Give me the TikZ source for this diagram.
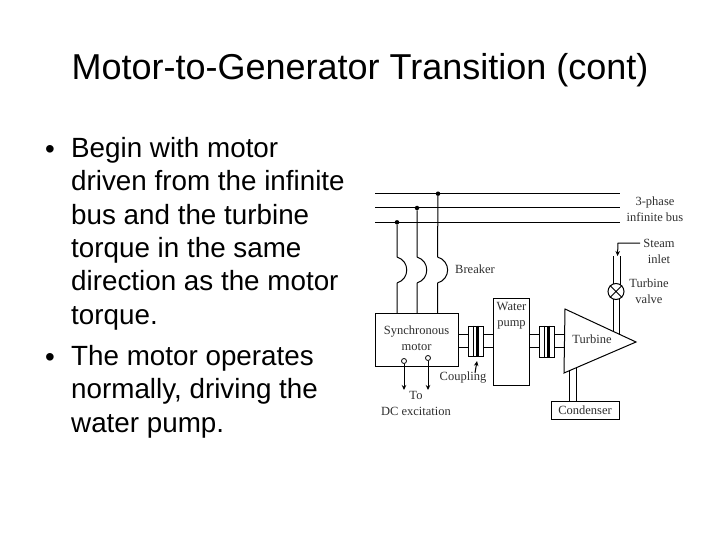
\documentclass[tikz,border=0pt]{standalone}
\usepackage{fontspec}
\setmainfont{Liberation Sans}
\newfontfamily\diagfont{Liberation Serif}
\usetikzlibrary{arrows.meta}
\definecolor{scan}{gray}{0.18}
\tikzset{
 titletext/.style={anchor=base,inner sep=0pt,font=\fontsize{36}{40}\selectfont},
 bodytext/.style={anchor=north west,inner sep=0pt,align=left,font=\fontsize{27.8}{33.4}\selectfont},
 bullettext/.style={anchor=base,inner sep=0pt,font=\fontsize{27.8}{33.4}\selectfont},
 lbl/.style={inner sep=0pt,text=scan,align=center,font=\diagfont\fontsize{12.5}{16}\selectfont},
 wire/.style={line width=1pt,draw=black},
 boxx/.style={draw=black,line width=1pt,fill=white,inner sep=0pt,minimum width=#1},
 dotn/.style={circle,fill=black,inner sep=0pt,minimum size=4.5pt},
 term/.style={circle,draw=black,fill=white,line width=0.8pt,inner sep=0pt,minimum size=5pt},
 arr/.style={wire,-{Stealth[length=5pt,width=4.5pt]}},
}
\begin{document}
\begin{tikzpicture}[x=1pt,y=-1pt]
\useasboundingbox (0,0) rectangle (720,540);
% text
\node[titletext] (title) at (360,80) {Motor-to-Generator Transition (cont)};
\node[bullettext] (b1) at (50,158.5) {•};
\node[bullettext] (b2) at (50,366) {•};
\node[bodytext] (t1) at (71,137) {Begin with motor\\driven from the infinite\\bus and the turbine\\torque in the same\\direction as the motor\\torque.};
\node[bodytext] (t2) at (71,345) {The motor operates\\normally, driving the\\water pump.};
% buses
\coordinate (b1l) at (375,193.7); \coordinate (b1r) at (620,193.7);
\coordinate (b2l) at (375,208); \coordinate (b2r) at (620,208);
\coordinate (b3l) at (375,222.3); \coordinate (b3r) at (620,222.3);
\draw[wire] (b1l)--(b1r); \draw[wire] (b2l)--(b2r); \draw[wire] (b3l)--(b3r);
\node[dotn] (da) at (397,222.3) {};
\node[dotn] (db) at (417,208) {};
\node[dotn] (dc) at (438,193.7) {};
% motor
\node[boxx=83pt,minimum height=53pt] (motor) at (416.5,339.5) {};
\node[lbl] (motorl) at (416.5,338) {Synchronous\\motor};
% breakers
\coordinate (ba1) at (397,257); \coordinate (ba2) at (397,283);
\coordinate (bb1) at (417,257); \coordinate (bb2) at (417,283);
\coordinate (bc1) at (437.5,257); \coordinate (bc2) at (437.5,283);
\draw[wire] (da)--(ba1) (ba1) .. controls (410,261) and (410,279) .. (ba2) (ba2)--(397,313);
\draw[wire] (db)--(bb1) (bb1) .. controls (430,261) and (430,279) .. (bb2) (bb2)--(417,313);
\draw[wire] (dc)--(bc1) (bc1) .. controls (451,261) and (451,279) .. (bc2) (bc2)--(437.5,313);
\node[lbl,anchor=west] (brk) at (455,269.5) {Breaker};
% terminals
\node[term] (t1a) at (404,361) {};
\node[term] (t2a) at (428,358) {};
\coordinate (e1) at (404,390); \coordinate (e2) at (428,390);
\draw[arr] (t1a)--(e1); \draw[arr] (t2a)--(e2);
\node[lbl] (dcl) at (416,403.5) {To\\DC excitation};
% pump
\node[boxx=36pt,minimum height=87pt] (pump) at (511,341.5) {};
\node[lbl] (pumpl) at (511.5,316) {Water\\pump};
% couplings
\node[boxx=15pt,minimum height=30pt] (c1) at (475.5,341) {};
\node[boxx=15pt,minimum height=31pt] (c2) at (546.5,341.5) {};
\draw[wire] (c1.north) ++(-2.5,0) -- ++(0,30) ++(5,-30) -- ++(0,30);
\draw[line width=2pt] (c1.north)++(1,0) -- ++(0,30);
\draw[wire] (c2.north) ++(-2.5,0) -- ++(0,31);
\draw[line width=3pt] (c2.north)++(2,0) -- ++(0,31);
% turbine
\coordinate (ta) at (565,309); \coordinate (tb) at (636,342); \coordinate (tc) at (564,373);
\draw[wire,fill=white] (ta)--(tb)--(tc)--cycle;
\node[lbl] (turbl) at (592,339) {Turbine};
% shafts
\foreach \y in {334,347}{
 \draw[wire] (motor.east |- 0,\y) -- (c1.west |- 0,\y);
 \draw[wire] (c1.east |- 0,\y) -- (pump.west |- 0,\y);
 \draw[wire] (pump.east |- 0,\y) -- (c2.west |- 0,\y);
 \draw[wire] (c2.east |- 0,\y) -- (565,\y);
}
% coupling label
\node[lbl] (cpl) at (463,378) {Coupling};
\coordinate (cpa) at (475,373); \coordinate (cpb) at (477,361);
\draw[arr] (cpa)--(cpb);
% valve
\node[circle,draw=black,line width=1pt,fill=white,minimum size=16pt,inner sep=0pt] (valve) at (616,291.5) {};
\draw[wire] (valve.north west)--(valve.south east) (valve.north east)--(valve.south west);
\coordinate (p1t) at (613,256); \coordinate (p2t) at (620,256);
\draw[wire] (p1t)--(613,284) (p2t)--(620,285);
\draw[wire] (613,299)--(613,331) (619.5,299)--(619.5,334);
\coordinate (sa) at (640,243); \coordinate (sb) at (618,243); \coordinate (sc) at (617.5,256);
\draw[arr] (sa)--(sb)--(sc);
% condenser
\node[boxx=68pt,minimum height=18pt] (cond) at (585,410) {};
\node[lbl] (condl) at (585,410.5) {Condenser};
\draw[wire] (569,371)--(569,401) (576,368)--(576,401);
% right labels
\node[lbl] (bus) at (655,209.5) {3-phase\\infinite bus};
\node[lbl] (steam) at (659,251) {Steam\\inlet};
\node[lbl] (valvel) at (649,291.5) {Turbine\\valve};
\end{tikzpicture}
\end{document}
